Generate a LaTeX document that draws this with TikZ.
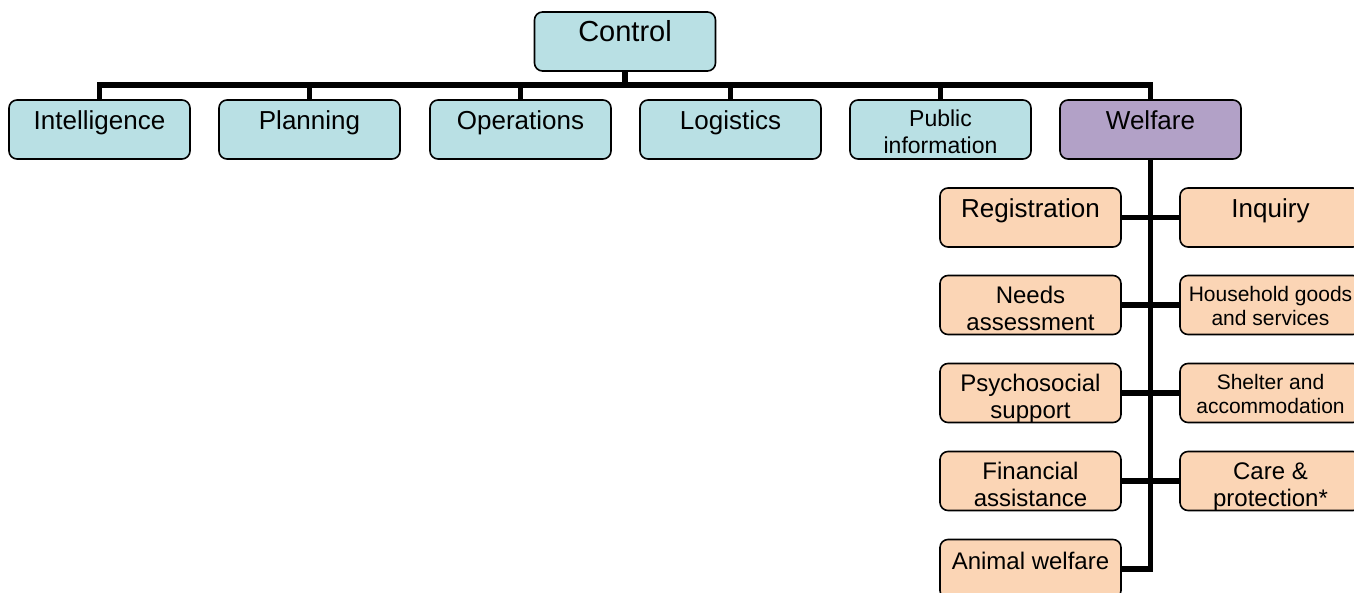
\documentclass[tikz,border=0pt]{standalone}
\usepackage{fontspec}
\setmainfont{Liberation Sans}

\definecolor{staffblue}{RGB}{185,224,228}
\definecolor{welfarepurple}{RGB}{178,161,199}
\definecolor{serviceorange}{RGB}{251,213,181}

\tikzset{
    unit/.style={draw=black, line width=1.6pt, rounded corners=8pt,
        minimum width=181pt, minimum height=59pt, inner sep=0pt,
        align=center, font=\fontsize{26}{30}\selectfont},
    oneline/.style={text height=18pt, text depth=18pt},
    twoline/.style={font=\fontsize{24}{27}\selectfont, text height=50pt, text depth=0pt},
    smallline/.style={font=\fontsize{21}{24}\selectfont, text height=40pt, text depth=0pt},
    staff/.style={unit, fill=staffblue},
    welfarebox/.style={unit, fill=welfarepurple},
    service/.style={unit, fill=serviceorange},
    link/.style={line width=5.5pt, line join=miter}
}

\begin{document}
\begin{tikzpicture}[x=1pt, y=-1pt]
    \useasboundingbox (0,0) rectangle (1354,592);

    % top of the tree
    \node[staff, oneline, font=\fontsize{29}{33}\selectfont] (control) at (625,41.5) {Control};

    % functions under control
    \node[staff, oneline] (intel) at (99.5,129.5) {Intelligence};
    \node[staff, oneline] (plan) at (309.5,129.5) {Planning};
    \node[staff, oneline] (ops) at (520.5,129.5) {Operations};
    \node[staff, oneline] (logi) at (730.5,129.5) {Logistics};
    \node[staff, twoline, font=\fontsize{23}{27}\selectfont, text height=48pt] (pubinfo) at (940.5,129.5) {Public\\information};
    \node[welfarebox, oneline] (welfare) at (1150.5,129.5) {Welfare};

    % welfare services, left column
    \node[service, oneline] (reg) at (1030.5,217.5) {Registration};
    \node[service, twoline] (needs) at (1030.5,305) {Needs\\assessment};
    \node[service, twoline] (psych) at (1030.5,393) {Psychosocial\\support};
    \node[service, twoline] (fin) at (1030.5,481) {Financial\\assistance};
    \node[service, oneline, font=\fontsize{24}{27}\selectfont] (animal) at (1030.5,569) {Animal welfare};

    % welfare services, right column
    \node[service, oneline] (inq) at (1270.5,217.5) {Inquiry};
    \node[service, smallline] (house) at (1270.5,305) {Household goods\\and services};
    \node[service, smallline] (shelter) at (1270.5,393) {Shelter and\\accommodation};
    \node[service, twoline] (care) at (1270.5,481) {Care \&\\protection*};

    % bus below control
    \coordinate (bus) at (625,85);
    \draw[link] (control.south) -- (bus);
    \draw[link] (intel.north) |- (bus) -| (welfare.north);
    \draw[link] (plan.north) -- (plan.north |- bus);
    \draw[link] (ops.north) -- (ops.north |- bus);
    \draw[link] (logi.north) -- (logi.north |- bus);
    \draw[link] (pubinfo.north) -- (pubinfo.north |- bus);

    % welfare trunk
    \draw[link] (welfare.south) |- (animal.east);
    \draw[link] (reg.east) -- (inq.west);
    \draw[link] (needs.east) -- (house.west);
    \draw[link] (psych.east) -- (shelter.west);
    \draw[link] (fin.east) -- (care.west);
\end{tikzpicture}
\end{document}
